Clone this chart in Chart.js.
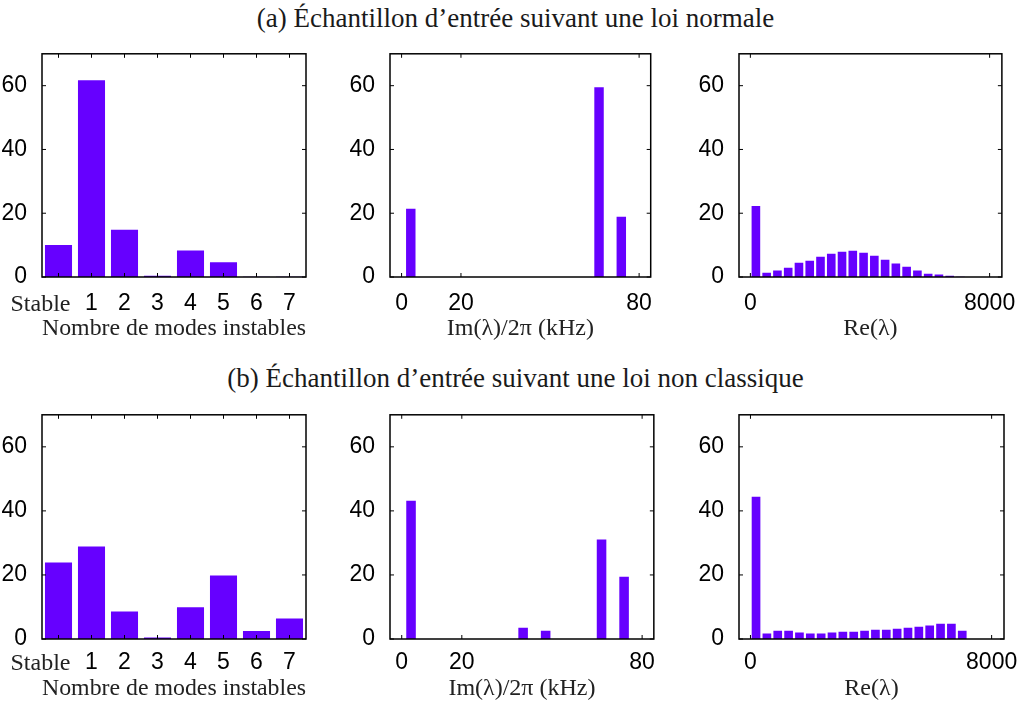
<!DOCTYPE html>
<html>
<head>
<meta charset="utf-8">
<title>Histogrammes</title>
<script src="https://cdn.jsdelivr.net/npm/chart.js"></script>
<style>
  body { margin:0; background:white; width:1021px; height:707px; position:relative; overflow:hidden; }
  .box { position:absolute; }
  .titre { position:absolute; left:0; width:1031px; text-align:center; white-space:nowrap;
           font-family:"Liberation Serif", "Times New Roman", serif; font-size:27px; line-height:32px; color:#1a1a1a; }
</style>
</head>
<body>
<div class="titre" style="top:2px">(a) Échantillon d’entrée suivant une loi normale</div>
<div class="titre" style="top:362px">(b) Échantillon d’entrée suivant une loi non classique</div>
<div class="box" id="p1"><canvas></canvas></div>
<div class="box" id="p2"><canvas></canvas></div>
<div class="box" id="p3"><canvas></canvas></div>
<div class="box" id="p4"><canvas></canvas></div>
<div class="box" id="p5"><canvas></canvas></div>
<div class="box" id="p6"><canvas></canvas></div>
<script>
// nombre de modes instables (%)
const categories = ['Stable', '1', '2', '3', '4', '5', '6', '7'];
const modesA = [10, 61.7, 14.8, 0.4, 8.3, 4.6, 0.1, 0.1];
const modesB = [23.9, 28.9, 8.6, 0.5, 9.9, 19.8, 2.5, 6.4];

// Im(lambda)/2pi en kHz
const imCentres = [3.1, 6.8, 10.6, 14.3, 18.0, 21.8, 25.5, 29.2, 32.9, 36.7,
                   40.4, 44.1, 47.9, 51.6, 55.3, 59.1, 62.8, 66.5, 70.2, 74.0];
const imA = [21.4, 0, 0, 0, 0, 0, 0, 0, 0, 0, 0, 0, 0, 0, 0, 0, 0, 59.5, 0, 18.9];
const imB = [43.2, 0, 0, 0, 0, 0, 0, 0, 0, 0, 3.5, 0, 2.6, 0, 0, 0, 0, 31.1, 0, 19.4];

// Re(lambda)
const reCentres = [185, 545, 905, 1265, 1625, 1985, 2345, 2705, 3065, 3425,
                   3785, 4145, 4505, 4865, 5225, 5585, 5945, 6305, 6665, 7025];
const reA = [22.3, 1.35, 2.0, 2.9, 4.5, 5.1, 6.35, 7.3, 7.9, 8.2,
             7.6, 6.7, 5.4, 4.2, 3.2, 2.0, 1.05, 0.75, 0.4, 0.1];
const reB = [44.4, 1.7, 2.6, 2.6, 2.0, 1.7, 1.7, 2.0, 2.3, 2.3,
             2.6, 2.9, 2.9, 3.2, 3.5, 3.85, 4.2, 4.8, 4.8, 2.6];

const yTicks = [0, 20, 40, 60];
const imTicks = [0, 20, 80];
const reTicks = [0, 8000];

const violet = '#6600ff';
const sans = '"Liberation Sans", Arial, sans-serif';
const serif = '"Liberation Serif", "Times New Roman", serif';

// cadre complet + petites graduations vers l'intérieur, comme matlab
const cadre = {
  id: 'cadre',
  afterDatasetsDraw(chart) {
    const { ctx, chartArea: a, scales } = chart;
    ctx.save();
    ctx.strokeStyle = '#000';
    ctx.lineWidth = 1;
    ctx.beginPath();
    scales.y.ticks.forEach(t => {
      const py = scales.y.getPixelForValue(t.value);
      ctx.moveTo(a.left, py); ctx.lineTo(a.left + 4, py);
      ctx.moveTo(a.right, py); ctx.lineTo(a.right - 4, py);
    });
    scales.x.ticks.forEach((t, i) => {
      const px = scales.x.getPixelForTick(i);
      ctx.moveTo(px, a.bottom); ctx.lineTo(px, a.bottom - 4);
      ctx.moveTo(px, a.top); ctx.lineTo(px, a.top + 4);
    });
    ctx.stroke();
    ctx.lineWidth = 1.5;
    ctx.strokeRect(a.left, a.top, a.right - a.left, a.bottom - a.top);
    ctx.restore();
  }
};

function panneau(id, pos, labels, data, xOpts, titre, barPct) {
  const box = document.getElementById(id);
  box.style.left = pos.left + 'px';
  box.style.top = pos.top + 'px';
  const cv = box.querySelector('canvas');
  cv.width = pos.w;
  cv.height = pos.h;
  const x = Object.assign({
    grid: { display: false },
    border: { display: false },
    title: { display: true, text: titre, color: '#222', padding: 0, font: { family: serif, size: 24 } },
    afterFit(s) { s.height = pos.xh; }
  }, xOpts);
  x.ticks = Object.assign({ padding: pos.tp }, x.ticks);
  return new Chart(cv, {
    type: 'bar',
    data: {
      labels: labels,
      datasets: [{ data: data, backgroundColor: violet, borderWidth: 0, categoryPercentage: 1, barPercentage: barPct }]
    },
    options: {
      responsive: false,
      animation: false,
      layout: { padding: { top: 20, right: pos.pr, bottom: 0, left: 0 } },
      plugins: { legend: { display: false }, tooltip: { enabled: false } },
      scales: {
        x: x,
        y: {
          min: 0, max: 70,
          grid: { display: false },
          border: { display: false },
          ticks: { color: '#000', padding: 7, font: { family: sans, size: 23 } },
          afterBuildTicks(s) { s.ticks = yTicks.map(v => ({ value: v })); },
          afterFit(s) { s.width = pos.yw; }
        }
      }
    },
    plugins: [cadre]
  });
}

const modesX = {
  type: 'category',
  ticks: {
    autoSkip: false, maxRotation: 0,
    color: c => c.index === 0 ? '#222' : '#000',
    font: c => c.index === 0 ? { family: serif, size: 24 } : { family: sans, size: 23 },
    callback: (v, i) => i === 0 ? categories[0] + '      ' : categories[i]
  }
};
function lineaire(min, max, ticks) {
  return {
    type: 'linear', min: min, max: max, offset: false,
    ticks: { autoSkip: false, maxRotation: 0, color: '#000',
             font: { family: sans, size: 23 }, callback: v => String(v) },
    afterBuildTicks(s) { s.ticks = ticks.map(v => ({ value: v })); }
  };
}
const pts = (xs, ys) => xs.map((x, i) => ({ x: x, y: ys[i] }));

const rang1 = { top: 33, h: 310, xh: 66, tp: 5 };
const rang2 = { top: 394, h: 309, xh: 64, tp: 2 };
const col1 = { left: 0, w: 308, yw: 42, pr: 2 };
const col2 = { left: 340, w: 317, yw: 50, pr: 2 };
const col3 = { left: 690, w: 331, yw: 49, pr: 17 };
const pos = (c, r) => Object.assign({}, c, r);

const tMode = 'Nombre de modes instables';
const tIm = 'Im(λ)/2π (kHz)';
const tRe = 'Re(λ)';

panneau('p1', pos(col1, rang1), categories, modesA, modesX, tMode, 0.82);
panneau('p2', pos(col2, rang1), undefined, pts(imCentres, imA), lineaire(-3.9, 83.9, imTicks), tIm, 0.86);
panneau('p3', pos(col3, rang1), undefined, pts(reCentres, reA), lineaire(-380, 8410, reTicks), tRe, 0.8);
panneau('p4', pos(col1, rang2), categories, modesB, modesX, tMode, 0.82);
panneau('p5', pos(col2, rang2), undefined, pts(imCentres, imB), lineaire(-3.9, 83.9, imTicks), tIm, 0.86);
panneau('p6', pos(col3, rang2), undefined, pts(reCentres, reB), lineaire(-380, 8410, reTicks), tRe, 0.8);
</script>
</body>
</html>
